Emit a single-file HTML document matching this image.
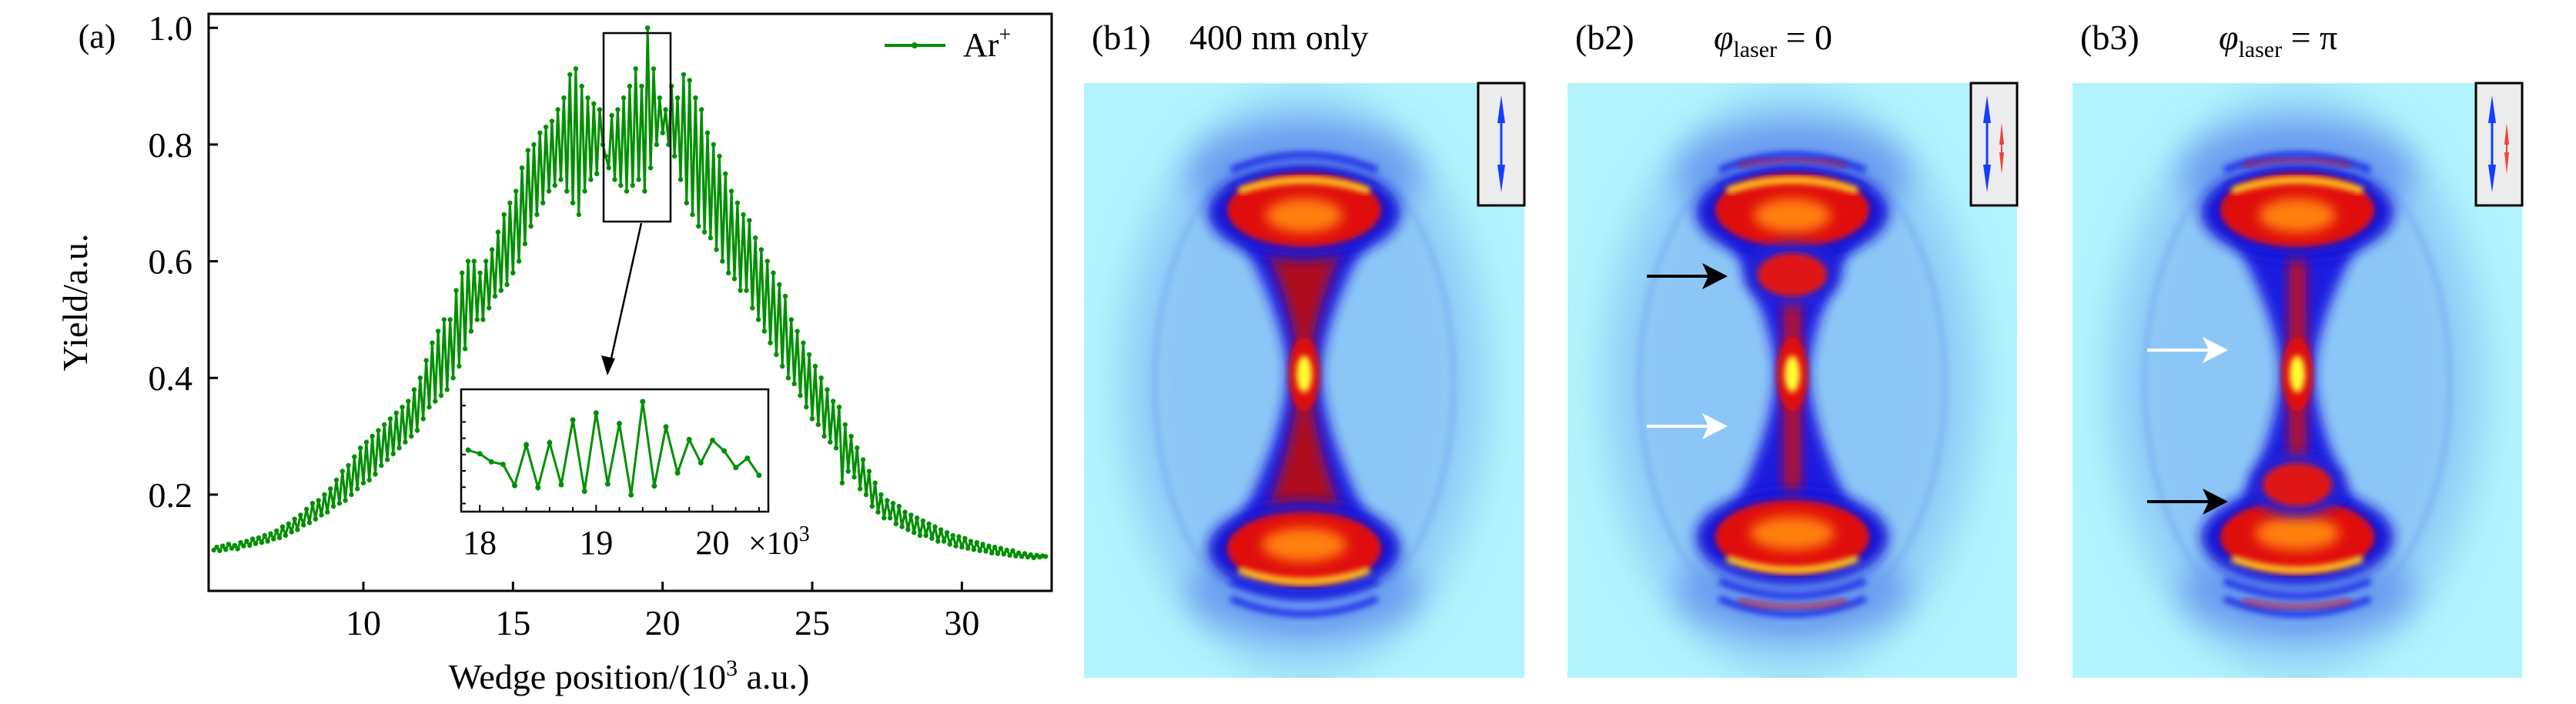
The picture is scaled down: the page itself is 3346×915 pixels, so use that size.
<!DOCTYPE html>
<html><head><meta charset="utf-8">
<style>
html,body{margin:0;padding:0;background:#fff;}
svg{display:block;font-family:"Liberation Serif","DejaVu Serif",serif;}
text{font-family:"Liberation Serif","DejaVu Serif",serif;fill:#000;}
</style></head>
<body>
<svg id="fig" width="3346" height="915" viewBox="0 0 3346 915" xmlns="http://www.w3.org/2000/svg" font-family="Liberation Serif, DejaVu Serif, serif">
<defs>
  <filter id="b4" x="-50%" y="-50%" width="200%" height="200%"><feGaussianBlur stdDeviation="4"/></filter>
  <filter id="b8" x="-50%" y="-50%" width="200%" height="200%"><feGaussianBlur stdDeviation="8"/></filter>
  <filter id="b20" x="-50%" y="-50%" width="200%" height="200%"><feGaussianBlur stdDeviation="20"/></filter>
</defs>
<g id="panel-a">
  <text x="126" y="62" font-size="44" text-anchor="middle">(a)</text>
  <g id="axes"></g>
  <text x="817" y="895" font-size="46" text-anchor="middle">Wedge position/(10<tspan font-size="30" dy="-17">3</tspan><tspan dy="17"> a.u.)</tspan></text>
  <text transform="translate(113,393) rotate(-90)" font-size="46" text-anchor="middle">Yield/a.u.</text>
  <g>
    <line x1="1149" y1="59" x2="1228" y2="59" stroke="#008f00" stroke-width="4"/>
    <circle cx="1188" cy="59" r="4" fill="#008f00"/>
    <text x="1251" y="73" font-size="44">Ar<tspan font-size="28" dy="-19">+</tspan></text>
  </g>
</g>
<g id="images"></g>
</svg>
<script>
// ---------- data for panel (a) ----------
const xStart = 5.0;
const xStep = 0.1;
const yields = [
.105,.11,.104,.112,.106,.115,.108,.113,.107,.118,
.112,.12,.113,.124,.116,.126,.118,.13,.12,.133,
.124,.138,.126,.145,.13,.15,.136,.158,.14,.165,
.148,.175,.152,.185,.158,.19,.165,.2,.17,.21,
.18,.225,.185,.24,.19,.25,.2,.265,.21,.28,
.22,.29,.225,.3,.235,.31,.25,.32,.26,.33,
.27,.34,.28,.35,.29,.36,.3,.38,.31,.4,
.33,.43,.35,.46,.36,.48,.37,.5,.38,.5,
.4,.55,.42,.58,.45,.6,.48,.6,.5,.58,
.5,.6,.52,.62,.54,.65,.55,.68,.56,.7,
.58,.72,.6,.76,.63,.79,.66,.8,.68,.82,
.7,.83,.72,.84,.73,.86,.74,.88,.72,.92,
.7,.93,.68,.9,.72,.88,.74,.87,.75,.86,
.8,.78,.76,.85,.74,.86,.73,.88,.72,.9,
.73,.93,.74,.9,.72,1.0,.76,.93,.8,.88,
.82,.86,.8,.9,.78,.88,.74,.92,.7,.91,
.68,.88,.66,.86,.65,.82,.64,.8,.62,.78,
.6,.75,.58,.72,.57,.7,.55,.68,.55,.67,
.52,.64,.5,.62,.48,.6,.46,.58,.44,.56,
.42,.54,.4,.5,.39,.48,.37,.46,.35,.44,
.33,.42,.32,.4,.3,.38,.29,.36,.28,.35,
.22,.32,.24,.3,.23,.28,.21,.26,.2,.24,
.18,.22,.17,.2,.16,.19,.16,.185,.15,.18,
.145,.17,.14,.165,.135,.16,.13,.155,.13,.15,
.125,.145,.12,.14,.12,.135,.115,.13,.112,.128,
.11,.125,.108,.12,.106,.118,.104,.115,.103,.112,
.1,.11,.099,.108,.098,.105,.096,.104,.095,.1,
.094,.099,.093,.097,.092,.096,.093,.095,.094
];
const xTicks = [10,15,20,25,30];
const xTickLabels = ["10","15","20","25","30"];
const yTicks = [0.2,0.4,0.6,0.8,1.0];
const yTickLabels = ["0.2","0.4","0.6","0.8","1.0"];
// inset data
const insetStart = 17.9;
const insetStep = 0.1;
const insetYields = [.851,.842,.822,.816,.764,.864,.759,.869,.766,.925,.750,.942,.768,.916,.741,.970,.763,.908,.795,.877,.820,.875,.849,.808,.831,.789];
const insetXTicks = [18,19,20];
const insetXTickLabels = ["18","19","20"];

const NS = "http://www.w3.org/2000/svg";
function mk(tag, attrs, parent){
  const e = document.createElementNS(NS, tag);
  for (const k in attrs) e.setAttribute(k, attrs[k]);
  parent.appendChild(e);
  return e;
}
const axes = document.getElementById('axes');
const L=271,R=1366,T=18,B=768;
const xMin=4.83,xMax=33.0,yMin=0.035,yMax=1.024;
const sx = v => L + (v-xMin)/(xMax-xMin)*(R-L);
const sy = v => B - (v-yMin)/(yMax-yMin)*(B-T);

let pts = yields.map((y,i)=>[sx(xStart+i*xStep), sy(y)]);
const line = mk('polyline',{points:pts.map(p=>p[0].toFixed(1)+','+p[1].toFixed(1)).join(' '),fill:'none',stroke:'#008f00','stroke-width':3,'stroke-linejoin':'round'},axes);


pts.forEach((p,i)=>{
  const c = mk('circle',{cx:p[0].toFixed(1),cy:p[1].toFixed(1),r:3.2,fill:'#008f00'},axes);
  
  
});
const frame = mk('rect',{x:L,y:T,width:R-L,height:B-T,fill:'none',stroke:'#000','stroke-width':3},axes);


xTicks.forEach((v,i)=>{
  const t = mk('line',{x1:sx(v),x2:sx(v),y1:B,y2:B-12,stroke:'#000','stroke-width':3},axes);
  
  
  const lb = mk('text',{x:sx(v),y:825,'font-size':46,'text-anchor':'middle'},axes);
  lb.textContent = xTickLabels[i];
  
  
});
yTicks.forEach((v,i)=>{
  const t = mk('line',{x1:L,x2:L+12,y1:sy(v),y2:sy(v),stroke:'#000','stroke-width':3},axes);
  
  
  const lb = mk('text',{x:250,y:sy(v)+16,'font-size':46,'text-anchor':'end'},axes);
  lb.textContent = yTickLabels[i];
  
  
});
const zb = mk('rect',{x:784,y:43,width:87,height:245,fill:'none',stroke:'#000','stroke-width':2.5},axes);


const ar = mk('line',{x1:833,y1:290,x2:793,y2:470,stroke:'#000','stroke-width':2.5},axes);


const ah = mk('polygon',{points:'789,488 781,462 799,466',fill:'#000'},axes);


const iL=599,iR=998,iT=506,iB=665;
const ixMin=17.84,ixMax=20.48,iyMin=0.70,iyMax=1.0;
const isx = v => iL + (v-ixMin)/(ixMax-ixMin)*(iR-iL);
const isy = v => iB - (v-iyMin)/(iyMax-iyMin)*(iB-iT);
const ibg = mk('rect',{x:iL,y:iT,width:iR-iL,height:iB-iT,fill:'#fff',stroke:'#000','stroke-width':2.5},axes);


const ipts = insetYields.map((y,i)=>[isx(insetStart+i*insetStep), isy(y)]);
const il = mk('polyline',{points:ipts.map(p=>p[0].toFixed(1)+','+p[1].toFixed(1)).join(' '),fill:'none',stroke:'#009000','stroke-width':3},axes);


ipts.forEach(p=>{
  const c = mk('circle',{cx:p[0].toFixed(1),cy:p[1].toFixed(1),r:3.5,fill:'#009000'},axes);
  
  
});
for (let v=18; v<=20.4; v+=0.2){
  const t = mk('line',{x1:isx(v),x2:isx(v),y1:iB,y2:iB-(Math.abs(v-Math.round(v))<0.01?9:6),stroke:'#000','stroke-width':2},axes);
  
  
}
for (let v=0.72; v<0.99; v+=0.04){
  const t = mk('line',{x1:iL,x2:iL+6,y1:isy(v),y2:isy(v),stroke:'#000','stroke-width':2},axes);
  
  
}
insetXTicks.forEach((v,i)=>{
  const lb = mk('text',{x:isx(v),y:720,'font-size':44,'text-anchor':'middle'},axes);
  lb.textContent = insetXTickLabels[i];
  
  
});
const mul = mk('text',{x:972,y:720,'font-size':42},axes);
mul.textContent = '×10';


const sup = mk('tspan',{'font-size':28,dy:-17},mul);
sup.textContent='3';

// ---------- images (b1,b2,b3) ----------
const imgs = document.getElementById('images');
const panels = [
  {name:'b1', x:1408, w:572, extra:null, label:'(b1)', title:'400 nm only', black:null, white:null},
  {name:'b2', x:2036, w:584, extra:249, label:'(b2)', title:'0', black:359, white:554},
  {name:'b3', x:2692, w:584, extra:522, label:'(b3)', title:'π', black:652, white:455}
];
const top0=108, H=773;
panels.forEach(p=>{
  const g = mk('g',{transform:`translate(${p.x},${top0})`},imgs);
  
  
  const w=p.w, cx=w/2;
  const cp = mk('clipPath',{id:'clip'+p.name},g);
  mk('rect',{x:0,y:0,width:w,height:H},cp);
  const c = mk('g',{'clip-path':`url(#clip${p.name})`},g);
  mk('rect',{x:0,y:0,width:w,height:H,fill:'#b2f3fd'},c);
  mk('ellipse',{cx,cy:390,rx:w*0.43,ry:385,fill:'#9ad9f8',filter:'url(#b20)'},c);
  mk('ellipse',{cx,cy:390,rx:w*0.36,ry:330,fill:'#8cc6f6',filter:'url(#b20)'},c);
  mk('ellipse',{cx,cy:390,rx:w*0.34,ry:320,fill:'none',stroke:'#6a9cf0','stroke-width':8,opacity:0.4,filter:'url(#b4)'},c);
  mk('ellipse',{cx,cy:120,rx:150,ry:70,fill:'#6c9ef0',filter:'url(#b20)'},c);
  mk('ellipse',{cx,cy:660,rx:150,ry:60,fill:'#6c9ef0',filter:'url(#b20)'},c);
  [95,118].forEach(y=>mk('path',{d:`M${cx-95},${y+18} Q${cx},${y-22} ${cx+95},${y+18}`,fill:'none',stroke:'#2436e6','stroke-width':9,filter:'url(#b4)'},c));
  [665,688].forEach(y=>mk('path',{d:`M${cx-95},${y-18} Q${cx},${y+22} ${cx+95},${y-18}`,fill:'none',stroke:'#2436e6','stroke-width':9,filter:'url(#b4)'},c));
  mk('path',{d:`M${cx-70},${108} Q${cx},${92} ${cx+70},${108}`,fill:'none',stroke:'#d01020','stroke-width':6,filter:'url(#b4)',opacity:p.name==='b1'?0:0.8},c);
  mk('path',{d:`M${cx-70},${672} Q${cx},${690} ${cx+70},${672}`,fill:'none',stroke:'#d01020','stroke-width':6,filter:'url(#b4)',opacity:p.name==='b1'?0:0.8},c);
  mk('path',{d:`M${cx-100},170 Q${cx-25},300 ${cx-22},378 Q${cx-25},460 ${cx-100},600 L${cx+100},600 Q${cx+25},460 ${cx+22},378 Q${cx+25},300 ${cx+100},170 Z`,fill:'#1a1ee0',filter:'url(#b8)'},c);
  if(p.name==='b1'){
    mk('path',{d:`M${cx-60},190 Q${cx-8},300 ${cx-7},378 Q${cx-8},460 ${cx-60},590 L${cx+60},590 Q${cx+8},460 ${cx+7},378 Q${cx+8},300 ${cx+60},190 Z`,fill:'#b0101e',filter:'url(#b8)'},c);
  } else {
    mk('rect',{x:cx-11,y:200,width:22,height:360,fill:'#c01020',filter:'url(#b8)'},c);
  }
  mk('ellipse',{cx,cy:168,rx:125,ry:62,fill:'#1818d8',filter:'url(#b8)'},c);
  mk('ellipse',{cx,cy:165,rx:100,ry:48,fill:'#e01010',filter:'url(#b4)'},c);
  mk('ellipse',{cx,cy:172,rx:50,ry:22,fill:'#ff8010',filter:'url(#b8)'},c);
  mk('path',{d:`M${cx-85},140 Q${cx},112 ${cx+85},140`,fill:'none',stroke:'#ffd020','stroke-width':9,filter:'url(#b4)'},c);
  const bc = p.name==='b1'?605:590;
  mk('ellipse',{cx,cy:bc,rx:125,ry:62,fill:'#1818d8',filter:'url(#b8)'},c);
  mk('ellipse',{cx,cy:bc,rx:100,ry:48,fill:'#e01010',filter:'url(#b4)'},c);
  mk('ellipse',{cx,cy:bc-5,rx:55,ry:22,fill:'#ff8010',filter:'url(#b8)'},c);
  mk('path',{d:`M${cx-85},${bc+28} Q${cx},${bc+58} ${cx+85},${bc+28}`,fill:'none',stroke:'#ffd020','stroke-width':9,filter:'url(#b4)'},c);
  if(p.extra){
    mk('ellipse',{cx,cy:p.extra,rx:62,ry:40,fill:'#2020d8',filter:'url(#b8)'},c);
    mk('ellipse',{cx,cy:p.extra,rx:45,ry:28,fill:'#e01515',filter:'url(#b4)'},c);
  }
  mk('ellipse',{cx,cy:378,rx:20,ry:48,fill:'#e01010',filter:'url(#b4)'},c);
  mk('ellipse',{cx,cy:378,rx:10,ry:24,fill:'#ffff30',filter:'url(#b4)'},c);
  const ib = mk('g',{transform:`translate(${w-60},0)`},g);
  
  
  mk('rect',{x:0,y:0,width:60,height:159,fill:'#ececec',stroke:'#000','stroke-width':3},ib);
  const bx = p.name==='b1'?30:21;
  mk('line',{x1:bx,y1:30,x2:bx,y2:128,stroke:'#1040ff','stroke-width':3},ib);
  mk('polygon',{points:`${bx},16 ${bx-5},52 ${bx+5},52`,fill:'#1040ff'},ib);
  mk('polygon',{points:`${bx},142 ${bx-5},106 ${bx+5},106`,fill:'#1040ff'},ib);
  if(p.name!=='b1'){
    mk('polygon',{points:`40,52 37,80 43,80`,fill:'#f04040'},ib);
    mk('polygon',{points:`40,118 37,90 43,90`,fill:'#f04040'},ib);
    mk('line',{x1:40,y1:70,x2:40,y2:100,stroke:'#f04040','stroke-width':2},ib);
  }
  const arrow=(y,col,nm)=>{
    const a = mk('g',{},g);
    
    
    const ax = p.name==='b2'?103:97;
    mk('line',{x1:ax,y1:y,x2:ax+85,y2:y,stroke:col,'stroke-width':4},a);
    mk('polygon',{points:`${ax+105},${y} ${ax+72},${y-17} ${ax+80},${y} ${ax+72},${y+17}`,fill:col},a);
  };
  if(p.black) arrow(p.black-top0,'#000','black-arrow-'+p.name);
  if(p.white) arrow(p.white-top0,'#fff','white-arrow-'+p.name);
  const lb = mk('text',{x:p.x+10,y:64,'font-size':46},imgs);
  lb.textContent = p.label;
  
  
  if(p.name==='b1'){
    const t = mk('text',{x:1545,y:64,'font-size':46},imgs);
    t.textContent = p.title;
    
    
  } else {
    const t = mk('text',{x:p.x+190,y:64,'font-size':46},imgs);
    
    
    const s1 = mk('tspan',{'font-style':'italic'},t); s1.textContent='φ';
    const s2 = mk('tspan',{'font-size':30,dy:10},t); s2.textContent='laser';
    const s3 = mk('tspan',{dy:-10},t); s3.textContent=' = '+p.title;
  }
});
</script>
</body></html>
